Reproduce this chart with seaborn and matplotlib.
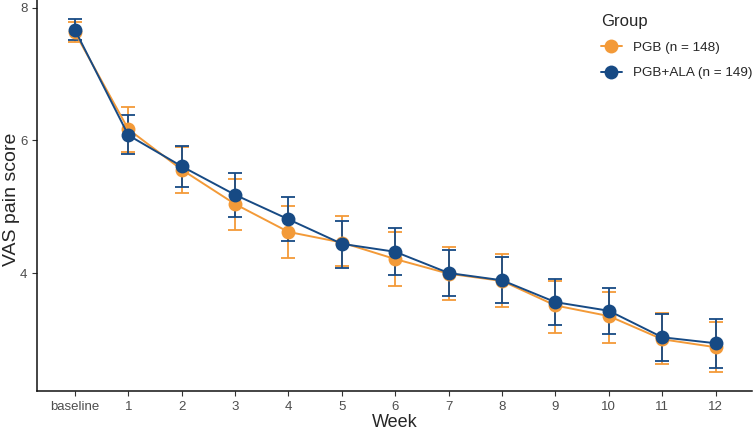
import numpy as np
import pandas as pd
import matplotlib
matplotlib.use("Agg")
import matplotlib.pyplot as plt
import seaborn as sns

weeks = ["baseline", "1", "2", "3", "4", "5", "6", "7", "8", "9", "10", "11", "12"]

pgb_mean = [7.63, 6.17, 5.56, 5.04, 4.62, 4.46, 4.21, 3.99, 3.88, 3.51, 3.35, 3.00, 2.88]
pgb_low = [7.49, 5.82, 5.21, 4.65, 4.23, 4.10, 3.81, 3.59, 3.48, 3.09, 2.95, 2.62, 2.50]
pgb_high = [7.79, 6.50, 5.90, 5.42, 5.01, 4.86, 4.62, 4.39, 4.29, 3.88, 3.72, 3.40, 3.26]

ala_mean = [7.67, 6.08, 5.61, 5.18, 4.81, 4.44, 4.32, 4.00, 3.89, 3.56, 3.43, 3.03, 2.94]
ala_low = [7.52, 5.79, 5.30, 4.84, 4.48, 4.08, 3.97, 3.65, 3.54, 3.21, 3.08, 2.67, 2.57]
ala_high = [7.83, 6.39, 5.92, 5.51, 5.15, 4.79, 4.68, 4.34, 4.24, 3.91, 3.78, 3.38, 3.30]

groups = ["PGB (n = 148)", "PGB+ALA (n = 149)"]
colors = {"PGB (n = 148)": "#F39A38", "PGB+ALA (n = 149)": "#174A84"}

sns.set_theme(style="ticks")
plt.rcParams["font.family"] = ["Liberation Sans", "DejaVu Sans"]

df = pd.DataFrame({
    "week": list(range(len(weeks))) * 2,
    "score": pgb_mean + ala_mean,
    "low": pgb_low + ala_low,
    "high": pgb_high + ala_high,
    "Group": [groups[0]] * len(weeks) + [groups[1]] * len(weeks),
})

fig = plt.figure(figsize=(7.55, 4.32), dpi=100)
ax = fig.add_axes([0.049, 0.095, 0.947, 0.905])

for g in groups:
    sub = df[df["Group"] == g]
    c = colors[g]
    ax.errorbar(sub["week"], sub["score"],
                yerr=[sub["score"] - sub["low"], sub["high"] - sub["score"]],
                fmt="none", ecolor=c, elinewidth=1.3, capsize=5, capthick=1.3, zorder=2)
    sns.lineplot(data=sub, x="week", y="score", color=c, linewidth=1.4,
                 marker="o", markersize=10, markeredgewidth=0, label=g, ax=ax, zorder=3)

ax.set_xlim(-0.71, 12.68)
ax.set_ylim(2.22, 8.12)
ax.set_xticks(range(len(weeks)))
ax.set_xticklabels(weeks)
ax.set_yticks([4, 6, 8])
ax.tick_params(colors="#333333", labelcolor="#4D4D4D", labelsize=9.5, length=3.5, width=0.8)
for s in ["top", "right"]:
    ax.spines[s].set_visible(False)
for s in ["left", "bottom"]:
    ax.spines[s].set_linewidth(1.1)
    ax.spines[s].set_color("#111111")

ax.set_xlabel("Week", fontsize=13)
ax.set_ylabel("VAS pain score", fontsize=14)
ax.xaxis.set_label_coords(0.5, -0.060)
ax.yaxis.set_label_coords(-0.024, 0.49)

leg = ax.legend(title="Group", loc="upper right", bbox_to_anchor=(1.012, 0.985), frameon=False,
                fontsize=9.7, title_fontsize=12, handlelength=1.6, labelspacing=0.95,
                borderaxespad=0.2)
leg._legend_box.align = "left"

fig.savefig("out.png", dpi=100)
